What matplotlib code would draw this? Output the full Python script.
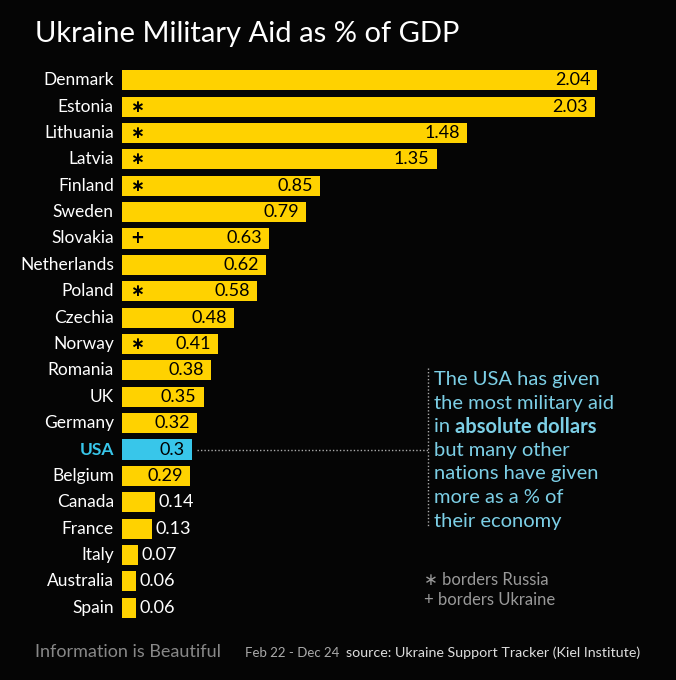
import matplotlib.pyplot as plt

countries = ["Denmark", "Estonia", "Lithuania", "Latvia", "Finland", "Sweden", "Slovakia",
             "Netherlands", "Poland", "Czechia", "Norway", "Romania", "UK", "Germany", "USA",
             "Belgium", "Canada", "France", "Italy", "Australia", "Spain"]
values = [2.04, 2.03, 1.48, 1.35, 0.85, 0.79, 0.63, 0.62, 0.58, 0.48, 0.41, 0.38, 0.35,
          0.32, 0.3, 0.29, 0.14, 0.13, 0.07, 0.06, 0.06]
value_labels = ["2.04", "2.03", "1.48", "1.35", "0.85", "0.79", "0.63", "0.62", "0.58", "0.48",
                "0.41", "0.38", "0.35", "0.32", "0.3", "0.29", "0.14", "0.13", "0.07", "0.06", "0.06"]
borders = ["", "*", "*", "*", "*", "", "+", "", "*", "", "*", "", "", "", "", "", "", "", "", "", ""]

YELLOW = "#FFD200"
CYAN = "#38C6EA"
NOTE = "#7CCFE6"
BG = "#050505"

W, H = 676, 680
fig = plt.figure(figsize=(W / 100, H / 100), dpi=100, facecolor=BG)
plt.rcParams['font.family'] = ['Lato', 'DejaVu Sans']

left, right, top, bottom = 122, 676, 67, 621
ax = fig.add_axes([left / W, 1 - bottom / H, (right - left) / W, (bottom - top) / H])
ax.set_facecolor(BG)
px_per_unit = 233
ax.set_xlim(0, (right - left) / px_per_unit)
ax.set_ylim(len(countries) - 0.5, -0.5)
ax.axis("off")

ypos = list(range(len(countries)))
colors = [CYAN if c == "USA" else YELLOW for c in countries]
ax.barh(ypos, values, height=0.76, color=colors)

for y, c, v, lab, b in zip(ypos, countries, values, value_labels, borders):
    ax.text(-0.035, y, c, ha="right", va="center", fontsize=12.5,
            color=CYAN if c == "USA" else "white", fontweight="bold" if c == "USA" else "normal")
    if v >= 0.2:
        ax.text(v - 0.03, y, lab, ha="right", va="center", fontsize=13, color="black")
    else:
        ax.text(v + 0.015, y, lab, ha="left", va="center", fontsize=13, color="white")
    if b:
        ax.text(0.035, y, "∗" if b == "*" else "+", ha="left", va="center",
                fontsize=12, color="black", fontweight="bold", family="DejaVu Sans")

# annotation lines
usa = countries.index("USA")
xline = (428 - left) / px_per_unit
ax.plot([values[usa] + 0.02, xline], [usa, usa], color="#aaaaaa", lw=1, ls=(0, (1, 1.5)))
ax.plot([xline, xline], [10.9, 16.9], color="#aaaaaa", lw=1, ls=(0, (1, 1.5)))

fig.text(35 / W, 1 - 34 / H, "Ukraine Military Aid as % of GDP", fontsize=21, color="white",
         va="center", ha="left")

note_lines = ["The USA has given", "the most military aid", None, "but many other",
              "nations have given", "more as a % of", "their economy"]
y0, dy = 380, 23.5
for i, line in enumerate(note_lines):
    yy = 1 - (y0 + i * dy) / H
    if line is None:
        fig.text(434 / W, yy, "in ", fontsize=14.5, color=NOTE, va="center")
        fig.text(455 / W, yy, "absolute dollars", fontsize=14.5, color=NOTE, va="center",
                 fontweight="bold")
    else:
        fig.text(434 / W, yy, line, fontsize=14.5, color=NOTE, va="center")

fig.text(424 / W, 1 - 580 / H, "∗ borders Russia", fontsize=12, color="#999999", va="center")
fig.text(424 / W, 1 - 600 / H, "+ borders Ukraine", fontsize=12, color="#999999", va="center")

fig.text(35 / W, 1 - 652 / H, "Information is Beautiful", fontsize=13, color="#888888", va="center")
fig.text(245 / W, 1 - 653 / H, "Feb 22 - Dec 24", fontsize=9.5, color="#aaaaaa", va="center")
fig.text(346 / W, 1 - 653 / H, "source: Ukraine Support Tracker (Kiel Institute)", fontsize=10.3,
         color="#dddddd", va="center")

fig.savefig("out.png", dpi=100, facecolor=BG)
